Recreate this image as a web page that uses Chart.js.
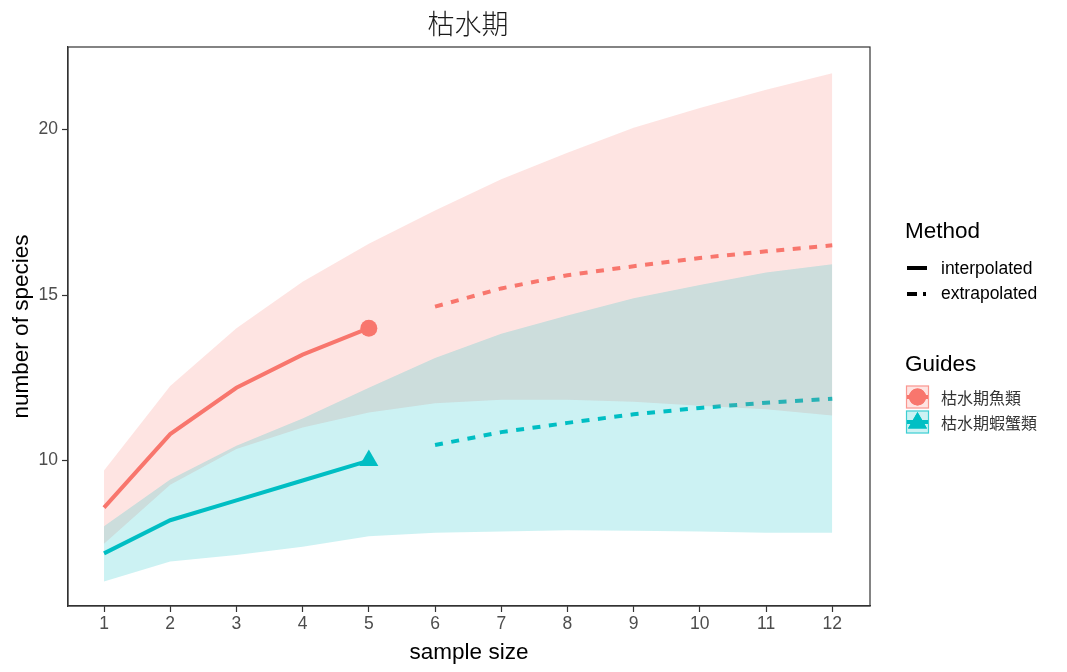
<!DOCTYPE html>
<html>
<head>
<meta charset="utf-8">
<script src="https://cdn.jsdelivr.net/npm/chart.js@4.4.1/dist/chart.umd.min.js"></script>
<style>
  html, body { margin: 0; padding: 0; background: #fff; }
</style>
</head>
<body>
<canvas id="graficoCurva" width="1067" height="672"></canvas>
<script>
// dados
var sampleSize = [1, 2, 3, 4, 5, 6, 7, 8, 9, 10, 11, 12];
var xTicks = [1, 2, 3, 4, 5, 6, 7, 8, 9, 10, 11, 12];
var yTicks = [10, 15, 20];

// 枯水期魚類
var fishMean  = [8.58, 10.8, 12.2, 13.2, 14.0, 14.65, 15.2, 15.6, 15.87, 16.12, 16.32, 16.5];
var fishUpper = [9.7, 12.25, 14.0, 15.4, 16.55, 17.55, 18.5, 19.3, 20.05, 20.65, 21.2, 21.7];
var fishLower = [7.49, 9.27, 10.35, 11.0, 11.45, 11.73, 11.84, 11.84, 11.78, 11.66, 11.55, 11.36];

// 枯水期蝦蟹類
var shrimpMean  = [7.2, 8.2, 8.8, 9.4, 10.0, 10.47, 10.86, 11.14, 11.4, 11.59, 11.75, 11.87];
var shrimpUpper = [8.02, 9.43, 10.45, 11.27, 12.2, 13.1, 13.83, 14.38, 14.9, 15.3, 15.68, 15.93];
var shrimpLower = [6.35, 6.95, 7.15, 7.4, 7.72, 7.82, 7.86, 7.9, 7.88, 7.86, 7.82, 7.82];

var observedAt = 5; // amostra observada

var corPeixe = '#F8766D';
var corCamarao = '#00BFC4';
var fundoPeixe = 'rgba(248,118,109,0.2)';
var fundoCamarao = 'rgba(0,191,196,0.2)';

function pontos(valores, de, ate) {
    var out = [];
    for (var i = 0; i < sampleSize.length; i++) {
        if (sampleSize[i] >= de && sampleSize[i] <= ate) {
            out.push({ x: sampleSize[i], y: valores[i] });
        }
    }
    return out;
}

function faixa(valores, fillMode, cor) {
    return {
        data: pontos(valores, 1, 12),
        borderColor: 'transparent',
        borderWidth: 0,
        pointRadius: 0,
        backgroundColor: cor,
        fill: fillMode,
        tension: 0
    };
}

function linha(valores, de, ate, cor, tracejado) {
    return {
        data: pontos(valores, de, ate),
        borderColor: cor,
        borderWidth: 4,
        borderDash: tracejado ? [8, 8.5] : [],
        pointRadius: 0,
        fill: false,
        tension: 0
    };
}

function marcador(valores, cor, estilo, raio) {
    return {
        data: pontos(valores, observedAt, observedAt),
        showLine: false,
        pointStyle: estilo,
        pointRadius: raio,
        pointBackgroundColor: cor,
        pointBorderColor: cor,
        pointBorderWidth: 0,
        fill: false
    };
}

// título, moldura do painel e legenda
var extras = {
    id: 'extras',
    afterDraw: function(chart) {
        var ctx = chart.ctx;
        var area = chart.chartArea;
        ctx.save();

        ctx.strokeStyle = '#333';
        ctx.lineWidth = 1.2;
        ctx.strokeRect(area.left, area.top, area.right - area.left, area.bottom - area.top);

        ctx.fillStyle = '#1a1a1a';
        ctx.font = '300 27px "Noto Sans CJK TC"';
        ctx.textAlign = 'center';
        ctx.textBaseline = 'middle';
        ctx.fillText('枯水期', 468, 24);

        var lx = 906;
        ctx.textAlign = 'left';
        ctx.fillStyle = '#000';
        ctx.font = '22.5px "Liberation Sans"';
        ctx.fillText('Method', lx - 1, 232);

        ctx.strokeStyle = '#000';
        ctx.lineWidth = 4;
        ctx.beginPath();
        ctx.moveTo(lx + 1, 268); ctx.lineTo(lx + 21, 268);
        ctx.stroke();
        ctx.beginPath();
        ctx.moveTo(lx + 1, 294); ctx.lineTo(lx + 11, 294);
        ctx.moveTo(lx + 17, 294); ctx.lineTo(lx + 20, 294);
        ctx.stroke();

        ctx.font = '17.5px "Liberation Sans"';
        ctx.fillText('interpolated', 941, 269);
        ctx.fillText('extrapolated', 941, 294);

        ctx.font = '22.5px "Liberation Sans"';
        ctx.fillText('Guides', lx - 1, 365);

        var chaves = [
            { cor: corPeixe, fundo: fundoPeixe, texto: '枯水期魚類', y: 397, estilo: 'circle', r: 8.5 },
            { cor: corCamarao, fundo: fundoCamarao, texto: '枯水期蝦蟹類', y: 422, estilo: 'triangle', r: 11 }
        ];
        chaves.forEach(function(k) {
            ctx.fillStyle = k.fundo;
            ctx.fillRect(lx, k.y - 11.5, 23, 23);
            ctx.strokeStyle = k.cor;
            ctx.globalAlpha = 0.7;
            ctx.lineWidth = 1.2;
            ctx.strokeRect(lx + 0.5, k.y - 11, 22, 22);
            ctx.globalAlpha = 1;
            ctx.fillStyle = k.cor;
            ctx.strokeStyle = k.cor;
            ctx.lineWidth = 4;
            ctx.beginPath();
            ctx.moveTo(lx + 1, k.y); ctx.lineTo(lx + 22, k.y);
            ctx.stroke();
            Chart.helpers.drawPoint(ctx, { pointStyle: k.estilo, radius: k.r, borderWidth: 0 }, lx + 11.5, k.y + (k.estilo === 'triangle' ? 1 : 0));
            ctx.fill();
            ctx.fillStyle = '#333';
            ctx.font = '16px "Noto Sans CJK TC"';
            ctx.fillText(k.texto, 941, k.y + 1);
        });

        ctx.restore();
    }
};

// as faixas ficam nos primeiros índices para serem desenhadas por cima das linhas
var ctx = document.getElementById('graficoCurva').getContext('2d');
var curvaChart = new Chart(ctx, {
    type: 'line',
    data: {
        datasets: [
            faixa(shrimpUpper, '+1', fundoCamarao),
            faixa(shrimpLower, false, fundoCamarao),
            faixa(fishUpper, '+1', fundoPeixe),
            faixa(fishLower, false, fundoPeixe),
            linha(fishMean, 1, 5, corPeixe, false),
            linha(fishMean, 6, 12, corPeixe, true),
            linha(shrimpMean, 1, 5, corCamarao, false),
            linha(shrimpMean, 6, 12, corCamarao, true),
            marcador(fishMean, corPeixe, 'circle', 8.5),
            marcador(shrimpMean, corCamarao, 'triangle', 11)
        ]
    },
    options: {
        responsive: false,
        animation: false,
        layout: { padding: { top: 47, right: 197, left: 0, bottom: 0 } },
        plugins: {
            legend: { display: false },
            tooltip: { enabled: false },
            title: { display: false },
            filler: { drawTime: 'beforeDatasetDraw' }
        },
        scales: {
            x: {
                type: 'linear',
                min: 0.456,
                max: 12.57,
                afterBuildTicks: function(s) { s.ticks = xTicks.map(function(v) { return { value: v }; }); },
                afterFit: function(s) { s.height = 66; },
                grid: { drawOnChartArea: false, tickLength: 6, tickColor: '#333', tickWidth: 1.2 },
                border: { color: '#333', width: 1.2 },
                ticks: { color: '#4D4D4D', font: { family: 'Liberation Sans', size: 17.5 }, padding: 2, maxRotation: 0, autoSkip: false },
                title: { display: true, text: 'sample size', color: '#000', font: { family: 'Liberation Sans', size: 22.5 }, padding: { top: 5.5, bottom: 5.5 } }
            },
            y: {
                type: 'linear',
                min: 5.61,
                max: 22.49,
                afterBuildTicks: function(s) { s.ticks = yTicks.map(function(v) { return { value: v }; }); },
                afterFit: function(s) { s.width = 68; },
                grid: { drawOnChartArea: false, tickLength: 6, tickColor: '#333', tickWidth: 1.2 },
                border: { color: '#333', width: 1.2 },
                ticks: { color: '#4D4D4D', font: { family: 'Liberation Sans', size: 17.5 }, padding: 4 },
                title: { display: true, text: 'number of species', color: '#000', font: { family: 'Liberation Sans', size: 22.5 }, padding: { top: 8, bottom: 8 } }
            }
        }
    },
    plugins: [extras]
});
</script>
</body>
</html>
